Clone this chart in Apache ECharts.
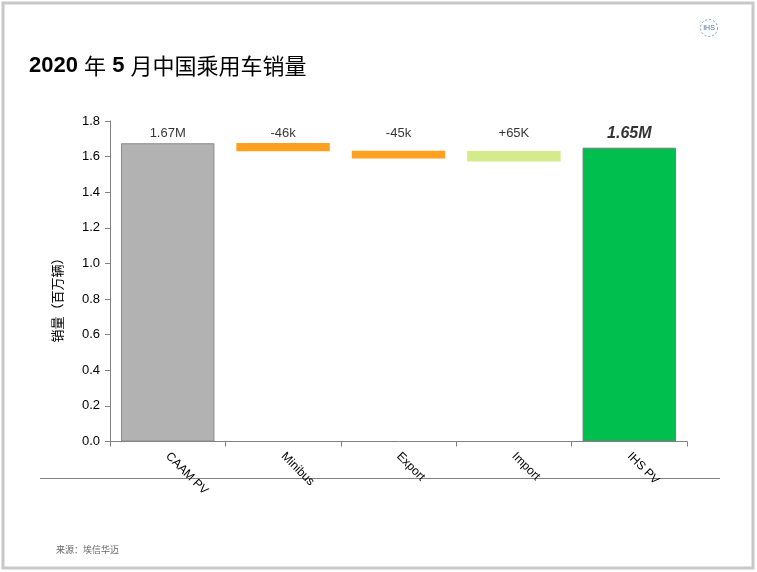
<!DOCTYPE html>
<html>
<head>
<meta charset="utf-8">
<script src="https://cdn.jsdelivr.net/npm/echarts@6/dist/echarts.min.js"></script>
<style>
html,body{margin:0;padding:0;background:#fff;}
#chart{width:757px;height:572px;}
</style>
</head>
<body>
<div id="chart"></div>
<script>
// ---- data ----
const categories = ['CAAM PV', 'Minibus', 'Export', 'Import', 'IHS PV'];
// lower and upper edge of each floating bar (million units)
const barLow  = [0,     1.630, 1.590, 1.572, 0];
const barHigh = [1.675, 1.676, 1.633, 1.632, 1.650];
const barLabels = ['1.67M', '-46k', '-45k', '+65K', '1.65M'];
const yTicks = [0, 0.2, 0.4, 0.6, 0.8, 1.0, 1.2, 1.4, 1.6, 1.8];

// ---- styles ----
const barColors = ['#b2b2b2', '#ffa020', '#ffa020', '#d4eb8c', '#00bf4f'];
const barBorders = ['#8a8a8a', null, null, null, '#7a7a7a'];
const LABEL_LEVEL = 1.73;
const FONT = '"Liberation Sans", Arial, "Noto Sans CJK SC", sans-serif';
const CJK = '"Noto Sans CJK SC", sans-serif';

const chart = echarts.init(document.getElementById('chart'));

const baseData = barLow.map(v => v);
const deltaData = barHigh.map((h, i) => ({
  value: +(h - barLow[i]).toFixed(4),
  itemStyle: {
    color: barColors[i],
    borderColor: barBorders[i] || barColors[i],
    borderWidth: barBorders[i] ? 1 : 0
  }
}));
const labelData = categories.map((c, i) => ({
  value: LABEL_LEVEL,
  label: i === 4
    ? { fontSize: 16, fontWeight: 'bold', fontStyle: 'italic', color: '#000' }
    : { fontSize: 13, color: '#000' }
}));

chart.setOption({
  animation: false,
  backgroundColor: '#ffffff',
  grid: { left: 110, right: 70, top: 121, bottom: 130.5 },
  xAxis: {
    type: 'category',
    data: categories,
    axisLine: { lineStyle: { color: '#808080', width: 1 } },
    axisTick: { show: true, length: 5, lineStyle: { color: '#808080' } },
    axisLabel: { rotate: -45, color: '#000', fontSize: 12, fontFamily: FONT, margin: 13 }
  },
  yAxis: {
    type: 'value',
    min: 0, max: 1.8, interval: 0.2,
    splitLine: { show: false },
    axisLine: { show: true, lineStyle: { color: '#808080', width: 1 } },
    axisTick: { show: true, length: 5, inside: false, lineStyle: { color: '#808080' } },
    axisLabel: {
      color: '#000', fontSize: 13, fontFamily: FONT, margin: 10,
      formatter: v => v.toFixed(1)
    }
  },
  series: [
    {
      type: 'bar', stack: 'w', data: baseData,
      barCategoryGap: '19%',
      itemStyle: { color: 'rgba(0,0,0,0)' },
      silent: true
    },
    {
      type: 'bar', stack: 'w', data: deltaData,
      barCategoryGap: '19%'
    },
    {
      type: 'scatter', data: labelData, symbolSize: 0,
      label: {
        show: true, position: 'inside', fontFamily: FONT,
        formatter: p => barLabels[p.dataIndex]
      },
      silent: true
    }
  ],
  graphic: [
    { type: 'rect', shape: { x: 3, y: 3, width: 750, height: 565 },
      style: { fill: 'none', stroke: '#c8c8c8', lineWidth: 3 } },
    { type: 'line', shape: { x1: 40, y1: 478.5, x2: 720, y2: 478.5 },
      style: { stroke: '#808080', lineWidth: 1 } },
    { type: 'text', left: 29, top: 55,
      style: {
        text: '{a|2020 }{b|年}{a| 5 }{b|月中国乘用车销量}',
        rich: {
          a: { fontFamily: FONT, fontSize: 22, fontWeight: 'bold', fill: '#000' },
          b: { fontFamily: CJK, fontSize: 22, fontWeight: 'normal', fill: '#000' }
        }
      } },
    { type: 'text', x: 57, y: 297, rotation: Math.PI / 2,
      style: { text: '销量（百万辆）', fontFamily: CJK, fontSize: 13, fill: '#000',
               align: 'center', verticalAlign: 'middle' } },
    { type: 'text', left: 56, top: 545,
      style: { text: '来源：埃信华迈', fontFamily: CJK, fontSize: 9, fill: '#666' } },
    { type: 'circle', shape: { cx: 709, cy: 28, r: 8.5 },
      style: { fill: 'none', stroke: '#7a9cc6', lineWidth: 1, lineDash: [2, 2] } },
    { type: 'text', x: 709, y: 28,
      style: { text: 'IHS', fontFamily: FONT, fontSize: 7, fill: '#4a6f9c',
               align: 'center', verticalAlign: 'middle' } }
  ]
});
</script>
</body>
</html>
